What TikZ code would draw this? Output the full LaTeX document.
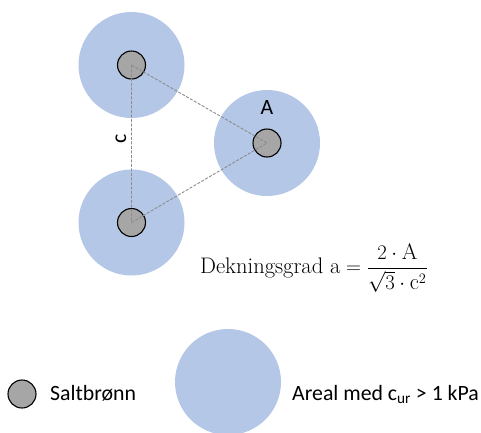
\documentclass[tikz,border=0pt]{standalone}
\usepackage{amsmath}
\usepackage{fontspec}
\newfontfamily\calibri{Carlito}
\definecolor{arealBla}{HTML}{B4C7E7}
\definecolor{bronnGra}{HTML}{A6A6A6}
\definecolor{linjeGra}{HTML}{8C8C8C}

\begin{document}
\begin{tikzpicture}[x=1pt,y=-1pt,
  areal/.style={circle,fill=arealBla,minimum size=106pt,inner sep=0pt},
  bronn/.style={circle,draw=black,fill=bronnGra,line width=1.1pt,
               minimum size=28pt,inner sep=0pt},
  linje/.style={draw=linjeGra,line width=0.9pt,dash pattern=on 3pt off 1.5pt},
  tekst/.style={font=\calibri\fontsize{21.8}{26}\selectfont,inner sep=0pt}]
\useasboundingbox (0,0) rectangle (481,432);
\node[areal] (a1) at (131.5,65) {};
\node[areal] (a2) at (267,143) {};
\node[areal] (a3) at (131.5,222.5) {};
\node[bronn] (b1) at (131.5,65) {};
\node[bronn] (b2) at (267,143) {};
\node[bronn] (b3) at (131.5,222.5) {};
\draw[linje] (b1.center) -- (b2.center) -- (b3.center) -- cycle;
\node[tekst] (lblA) at (267,108) {A};
\node[tekst,rotate=90] (lblc) at (121,139) {c};
\node[anchor=west,inner sep=0pt,font=\fontsize{22.5}{27}\selectfont] (formel) at (200,268)
  {Dekningsgrad $\mathrm{a}=\dfrac{2\cdot\mathrm{A}}{\sqrt{3}\cdot\mathrm{c}^2}$};
% tegnforklaring
\node[bronn] (legBronn) at (22,394) {};
\node[tekst,anchor=base west] (legBronnTxt) at (50,400.5) {Saltbrønn};
\node[areal] (legAreal) at (228,382) {};
\node[tekst,anchor=base west] (legArealTxt) at (292,400.5) {Areal med c\textsubscript{ur} > 1 kPa};
\end{tikzpicture}
\end{document}
